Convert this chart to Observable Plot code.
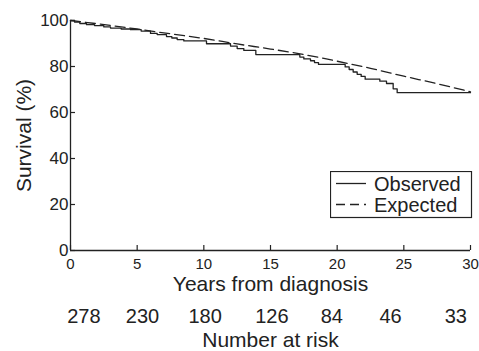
<!DOCTYPE html>
<html>
<head>
<meta charset="utf-8">
<script src="https://cdn.jsdelivr.net/npm/d3@7"></script>
<script src="https://cdn.jsdelivr.net/npm/@observablehq/plot@0.6"></script>
<style>
  html, body { margin: 0; padding: 0; background: #fff; }
  #wrap { position: relative; width: 479px; height: 351px; font-family: "Liberation Sans", Arial, sans-serif; }
  #legend { position: absolute; left: 330px; top: 171px; }
</style>
</head>
<body>
<div id="wrap"></div>
<script>
// Observed survival (Kaplan-Meier step function)
const obsYears = [0, 0.3, 0.7, 1.2, 1.8, 2.5, 3.0, 3.8, 4.5, 5.3, 6.0, 6.5, 7.2, 7.6, 8.0, 8.5, 10.2, 12.0, 12.5, 13.0, 13.9, 17.2, 17.5, 18.0, 18.3, 18.6, 20.6, 20.9, 21.2, 21.5, 21.8, 22.1, 23.2, 23.7, 24.2, 24.5, 30];
const obsSurv  = [100, 99.3, 98.7, 98.2, 97.8, 97.2, 96.7, 96.3, 96.0, 95.4, 94.4, 93.9, 93.0, 92.4, 91.7, 91.1, 89.9, 88.9, 87.8, 87.0, 85.2, 84.1, 83.3, 82.5, 81.7, 80.9, 79.8, 78.7, 77.6, 76.6, 75.7, 74.5, 73.6, 72.6, 70.3, 68.6, 68.6];
// Expected survival
const expYears = [0, 2, 5, 7.5, 10, 12.5, 15, 17.5, 20, 22.5, 25, 27.5, 30];
const expSurv  = [100, 98.6, 96.3, 94.2, 92.2, 89.8, 87.6, 85.2, 82.3, 79.2, 75.8, 72.5, 69];
// Number at risk
const riskTimes  = [1, 5.4, 10.1, 15.1, 19.6, 24, 28.9];
const riskCounts = [278, 230, 180, 126, 84, 46, 33];
// Ticks and labels
const xTicks = [0, 5, 10, 15, 20, 25, 30];
const yTicks = [0, 20, 40, 60, 80, 100];
const seriesNames = ["Observed", "Expected"];
const xLabel = "Years from diagnosis";
const yLabel = "Survival (%)";
const riskLabel = "Number at risk";

const observed = obsYears.map((x, i) => ({x, y: obsSurv[i]}));
const expected = expYears.map((x, i) => ({x, y: expSurv[i]}));
const risk = riskTimes.map((x, i) => ({x, n: riskCounts[i]}));

const ink = "#222";
const chart = Plot.plot({
  width: 479,
  height: 351,
  marginLeft: 70,
  marginRight: 9,
  marginTop: 20,
  marginBottom: 101,
  style: {fontFamily: "'Liberation Sans', Arial, sans-serif", fontSize: "16px", color: ink, background: "#fff", overflow: "visible"},
  x: {domain: [0, 30]},
  y: {domain: [0, 100]},
  marks: [
    Plot.axisY(yTicks, {tickSize: -5, tickPadding: 7, fontSize: 17, label: null, stroke: ink, strokeWidth: 1.2}),
    Plot.axisX(xTicks, {tickSize: -5, tickPadding: 13, fontSize: 15, label: null, stroke: ink, strokeWidth: 1.2}),
    Plot.ruleX([0], {stroke: ink, strokeWidth: 1.3}),
    Plot.ruleY([0], {stroke: ink, strokeWidth: 1.3}),
    Plot.line(expected, {x: "x", y: "y", curve: "monotone-x", stroke: ink, strokeWidth: 1.3, strokeDasharray: "10,5"}),
    Plot.line(observed, {x: "x", y: "y", curve: "step-after", stroke: ink, strokeWidth: 1.3}),
    Plot.text([xLabel], {frameAnchor: "bottom", lineAnchor: "top", dy: 26, fontSize: 21, fill: ink}),
    Plot.text(risk, {x: "x", text: d => String(d.n), frameAnchor: "bottom", lineAnchor: "top", dy: 58, fontSize: 20, fill: ink}),
    Plot.text([riskLabel], {frameAnchor: "bottom", lineAnchor: "top", dy: 82, fontSize: 21, fill: ink}),
    Plot.text([yLabel], {frameAnchor: "left", textAnchor: "middle", rotate: -90, dx: -46, fontSize: 21, fill: ink})
  ]
});
const wrap = document.getElementById("wrap");
wrap.appendChild(chart);

// Legend (boxed, overlaid on the plot area)
const legend = document.createElement("div");
legend.id = "legend";
const NS = "http://www.w3.org/2000/svg";
const lsvg = document.createElementNS(NS, "svg");
lsvg.setAttribute("width", 143);
lsvg.setAttribute("height", 48);
lsvg.style.display = "block";
const rect = document.createElementNS(NS, "rect");
rect.setAttribute("x", 0.5); rect.setAttribute("y", 0.5);
rect.setAttribute("width", 141); rect.setAttribute("height", 46);
rect.setAttribute("fill", "#fff"); rect.setAttribute("stroke", ink); rect.setAttribute("stroke-width", 1.2);
lsvg.appendChild(rect);
seriesNames.forEach((name, i) => {
  const yy = 12.5 + i * 21;
  const ln = document.createElementNS(NS, "line");
  ln.setAttribute("x1", 6); ln.setAttribute("x2", 36);
  ln.setAttribute("y1", yy); ln.setAttribute("y2", yy);
  ln.setAttribute("stroke", ink); ln.setAttribute("stroke-width", 1.3);
  if (i === 1) ln.setAttribute("stroke-dasharray", "9,5");
  lsvg.appendChild(ln);
  const t = document.createElementNS(NS, "text");
  t.setAttribute("x", 44); t.setAttribute("y", yy + 7);
  t.setAttribute("font-size", 20);
  t.setAttribute("font-family", "'Liberation Sans', Arial, sans-serif");
  t.setAttribute("fill", ink);
  t.textContent = name;
  lsvg.appendChild(t);
});
legend.appendChild(lsvg);
wrap.appendChild(legend);
</script>
</body>
</html>
